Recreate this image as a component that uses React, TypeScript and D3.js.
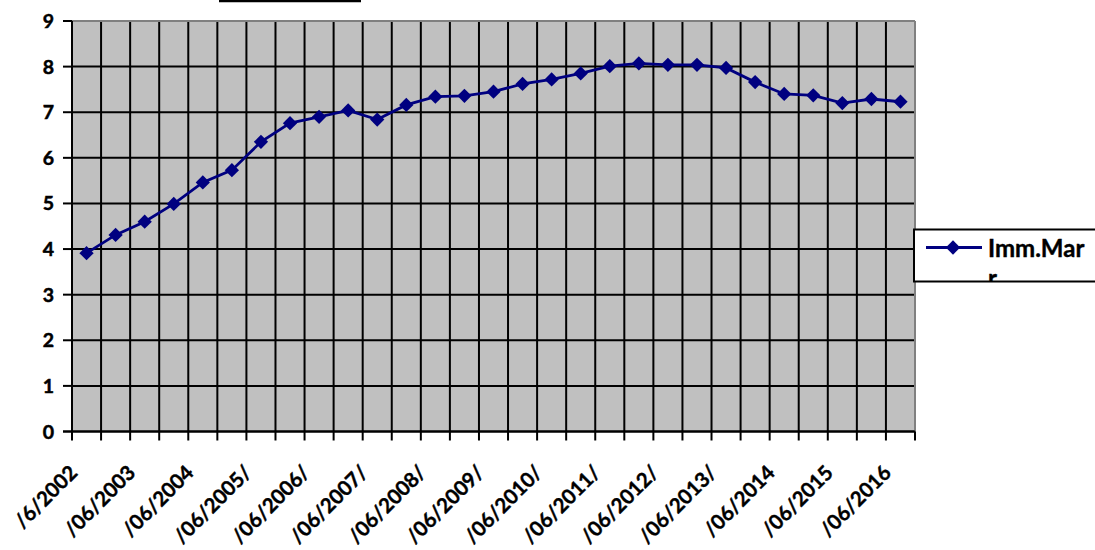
import React from "react";
import * as d3 from "d3";

const categories: string[] = [
  "06/2002", "12/2002", "06/2003", "12/2003", "06/2004", "12/2004", "06/2005",
  "12/2005", "06/2006", "12/2006", "06/2007", "12/2007", "06/2008", "12/2008",
  "06/2009", "12/2009", "06/2010", "12/2010", "06/2011", "12/2011", "06/2012",
  "12/2012", "06/2013", "12/2013", "06/2014", "12/2014", "06/2015", "12/2015",
  "06/2016",
];

const values: number[] = [
  3.91, 4.31, 4.6, 4.99, 5.46, 5.73, 6.35,
  6.76, 6.9, 7.04, 6.84, 7.16, 7.34, 7.36,
  7.45, 7.62, 7.72, 7.85, 8.01, 8.07, 8.04,
  8.04, 7.97, 7.66, 7.4, 7.37, 7.2, 7.29,
  7.23,
];

const tickLabels: string[] = [
  "/6/2002", "/06/2003", "/06/2004", "/06/2005/", "/06/2006/", "/06/2007/",
  "/06/2008/", "/06/2009/", "/06/2010/", "/06/2011/", "/06/2012/", "/06/2013/",
  "/06/2014", "/06/2015", "/06/2016",
];

const yTicks: number[] = [0, 1, 2, 3, 4, 5, 6, 7, 8, 9];
const seriesName: string[] = ["Imm.Mar", "r"];

const W = 1095;
const H = 550;
const left = 72;
const right = 915;
const top = 21;
const bottom = 431.5;
const FONT = "Lato, 'Open Sans', sans-serif";

export default function App() {
  const x = d3.scaleBand<string>().domain(categories).range([left, right]).padding(0);
  const y = d3.scaleLinear().domain([0, 9]).range([bottom, top]);
  const cx = (c: string) => (x(c) as number) + x.bandwidth() / 2;

  const line = d3
    .line<number>()
    .x((_, i) => cx(categories[i]))
    .y((v) => y(v));

  const boundaries = categories.map((c) => x(c) as number).concat([right]);
  const diamond = d3.symbol().type(d3.symbolDiamond2).size(130)();

  return (
    <svg
      width={W}
      height={H}
      style={{ position: "absolute", left: 0, top: 0, background: "#fff" }}
      fontFamily={FONT}
      fontWeight="bold"
    >
      <defs>
        <clipPath id="legclip">
          <rect x={915} y={230} width={200} height={51} />
        </clipPath>
      </defs>
      {/* cut-off title underline */}
      <line x1={219} x2={361} y1={1} y2={1} stroke="#000" strokeWidth={2.4} />

      {/* plot area */}
      <rect x={left} y={top} width={right - left} height={bottom - top} fill="#C0C0C0" />
      {yTicks.map((t) => (
        <line key={"h" + t} x1={left} x2={right} y1={y(t)} y2={y(t)} stroke="#000" strokeWidth={2} />
      ))}
      {boundaries.map((b, i) => (
        <line key={"v" + i} x1={b} x2={b} y1={top} y2={bottom} stroke="#000" strokeWidth={2} />
      ))}
      <line x1={left} x2={right} y1={top} y2={top} stroke="#808080" strokeWidth={2} />
      <line x1={right} x2={right} y1={top} y2={bottom} stroke="#808080" strokeWidth={2} />

      {/* axes */}
      <line x1={left} x2={left} y1={top} y2={bottom} stroke="#000" strokeWidth={2} />
      <line x1={left - 9} x2={right} y1={bottom} y2={bottom} stroke="#000" strokeWidth={2} />
      {yTicks.map((t) => (
        <g key={"yt" + t}>
          <line x1={left - 9} x2={left} y1={y(t)} y2={y(t)} stroke="#000" strokeWidth={2} />
          <text x={54} y={y(t)} dy="0.36em" textAnchor="end" fontSize={19.5} fill="#000" stroke="#000" strokeWidth={0.5}>
            {t}
          </text>
        </g>
      ))}
      {boundaries.map((b, i) => (
        <line key={"xt" + i} x1={b} x2={b} y1={bottom} y2={bottom + 9} stroke="#000" strokeWidth={2} />
      ))}
      {tickLabels.map((lab, i) => {
        const c = categories[i * 2];
        const ax = cx(c) - 8;
        const ay = 474;
        return (
          <text
            key={"xl" + i}
            x={ax}
            y={ay}
            textAnchor="end"
            fontSize={20.5}
            fill="#000"
            stroke="#000"
            strokeWidth={0.4}
            transform={`rotate(-45 ${ax} ${ay})`}
          >
            {lab}
          </text>
        );
      })}

      {/* series */}
      <path d={line(values) || ""} fill="none" stroke="#000080" strokeWidth={2.8} />
      {values.map((v, i) => (
        <path key={"m" + i} d={diamond || ""} transform={`translate(${cx(categories[i])},${y(v)})`} fill="#000080" />
      ))}

      {/* legend */}
      <rect x={914} y={229.5} width={200} height={52} fill="#fff" stroke="#000" strokeWidth={2} />
      <line x1={926} x2={982} y1={247.5} y2={247.5} stroke="#000080" strokeWidth={2.8} />
      <path d={diamond || ""} transform="translate(953,247.5)" fill="#000080" />
      <g clipPath="url(#legclip)">
        <text x={988} y={256.5} fontSize={24} fill="#000" stroke="#000" strokeWidth={0.4}>{seriesName[0]}</text>
        <text x={988} y={287} fontSize={24} fill="#000" stroke="#000" strokeWidth={0.4}>{seriesName[1]}</text>
      </g>
    </svg>
  );
}
